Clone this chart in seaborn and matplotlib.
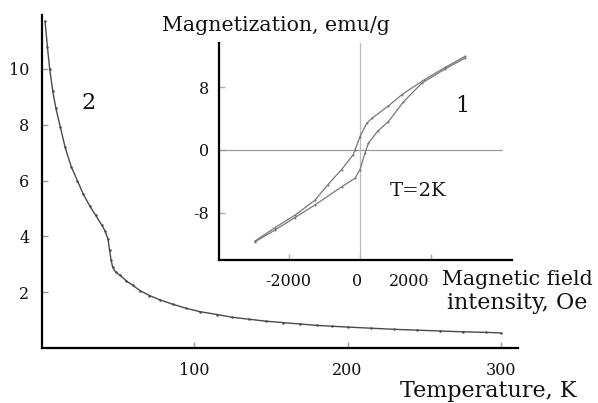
import matplotlib
matplotlib.use("Agg")
import matplotlib.pyplot as plt
import matplotlib.transforms as mtransforms
import seaborn as sns
import pandas as pd

# Main curve: magnetization vs temperature (curve 2)
temperature_K = [3, 4.5, 6, 8, 10, 13, 16, 20, 24, 28, 32, 36, 40, 42, 44, 45, 46, 47, 49,
                 52, 56, 60, 65, 71, 78, 86, 95, 104, 115, 125, 136, 147, 158, 169, 180,
                 190, 200, 215, 230, 245, 260, 275, 290, 300]
magnet_T = [11.7, 10.8, 10.0, 9.2, 8.6, 7.9, 7.2, 6.5, 6.0, 5.5, 5.1, 4.75, 4.4, 4.2, 3.9, 3.5,
            3.15, 2.9, 2.72, 2.6, 2.4, 2.25, 2.05, 1.88, 1.72, 1.57, 1.42, 1.3, 1.2, 1.1, 1.03,
            0.96, 0.91, 0.86, 0.81, 0.78, 0.75, 0.71, 0.67, 0.64, 0.61, 0.58, 0.56, 0.54]

# Inset: hysteresis loop at T=2K (curve 1)
field_down = [2960, 2400, 1800, 1170, 800, 330, 190, 0, -140, -190, -520, -900, -1270,
              -1830, -2400, -2960]
magnet_down = [11.9, 10.5, 8.9, 7.0, 5.6, 4.0, 3.4, 1.7, 0.0, -0.6, -2.5, -4.4, -6.4,
               -8.3, -9.9, -11.6]
field_up = [-2960, -2400, -1830, -1270, -520, -140, 0, 140, 235, 500, 800, 1220, 1740,
            2400, 2960]
magnet_up = [-11.7, -10.2, -8.6, -7.0, -4.7, -3.6, -2.5, -0.4, 0.85, 2.4, 3.6, 6.1, 8.5,
             10.3, 11.7]

main_xticks = [100, 200, 300]
main_yticks = [2, 4, 6, 8, 10]
inset_xticks = [-2000, 0, 2000]
inset_yticks = [-8, 0, 8]

sns.set_theme(style="ticks")
plt.rcParams["font.family"] = ["DejaVu Serif", "DejaVu Sans"]
plt.rcParams["axes.unicode_minus"] = False

W, H = 598, 403
fig = plt.figure(figsize=(W / 100, H / 100), dpi=100)

def fr(x0, y0, x1, y1):
    return [x0 / W, 1 - y1 / H, (x1 - x0) / W, (y1 - y0) / H]

ax = fig.add_axes(fr(42, 15, 518, 348))
df_main = pd.DataFrame({"T": temperature_K, "M": magnet_T})
sns.lineplot(data=df_main, x="T", y="M", ax=ax, color="#4a4a4a", lw=1.0,
             marker="o", markersize=1.8, markeredgewidth=0, estimator=None, sort=False)
ax.set_xlim(1, 311)
ax.set_ylim(0, 11.93)
ax.set_xticks(main_xticks)
ax.set_yticks(main_yticks)
ax.set_xlabel("")
ax.set_ylabel("")
for s in ["top", "right"]:
    ax.spines[s].set_visible(False)
for s in ["left", "bottom"]:
    ax.spines[s].set_color("black")
    ax.spines[s].set_linewidth(1.6)
ax.tick_params(axis="both", direction="in", length=4, width=1, color="#999999",
               labelsize=11.5, labelcolor="#111111")
ax.tick_params(axis="x", pad=10)
ax.tick_params(axis="y", pad=9)

ax2 = fig.add_axes(fr(219, 43, 512, 260))
ax2.axhline(0, xmin=0, xmax=(502 - 219) / (512 - 219), color="#999999", lw=0.9)
ax2.axvline(0, color="#bbbbbb", lw=0.9)
df_down = pd.DataFrame({"H": field_down, "M": magnet_down})
df_up = pd.DataFrame({"H": field_up, "M": magnet_up})
for d in (df_down, df_up):
    sns.lineplot(data=d, x="H", y="M", ax=ax2, color="#777777", lw=0.9,
                 marker="o", markersize=1.5, markeredgewidth=0, estimator=None, sort=False)
ax2.set_xlim(-3970, 4280)
ax2.set_ylim(-14.0, 13.6)
ax2.set_xticks(inset_xticks)
ax2.set_yticks(inset_yticks)
ax2.set_xlabel("")
ax2.set_ylabel("")
ax2.patch.set_alpha(0)
for s in ["top", "right"]:
    ax2.spines[s].set_visible(False)
for s in ["left", "bottom"]:
    ax2.spines[s].set_color("black")
    ax2.spines[s].set_linewidth(1.6)
ax2.tick_params(axis="both", direction="in", length=4, width=1, color="#aaaaaa",
                labelsize=11.5, labelcolor="#111111")
ax2.tick_params(axis="x", pad=9)
ax2.tick_params(axis="y", pad=7)

# reference places the inset x labels slightly left of their ticks
shifts = [-1, -3, -22]
for lab, dx in zip(ax2.get_xticklabels(), shifts):
    lab.set_transform(lab.get_transform() +
                      mtransforms.ScaledTranslation(dx / 100, 0, fig.dpi_scale_trans))

def ftext(x, y, s, size, **kw):
    fig.text(x / W, 1 - y / H, s, fontsize=size, color="#111111", va="baseline", **kw)

ftext(162, 31, "Magnetization, emu/g", 14.8)
ftext(88.5, 109, "2", 16, ha="center")
ftext(462, 112, "1", 16, ha="center")
ftext(390, 196, "T=2K", 14)
ftext(442, 285, "Magnetic field", 14.8)
ftext(447, 309, "intensity, Oe", 16)
ftext(400, 397, "Temperature, K", 16)

fig.savefig("out.png", dpi=100)
